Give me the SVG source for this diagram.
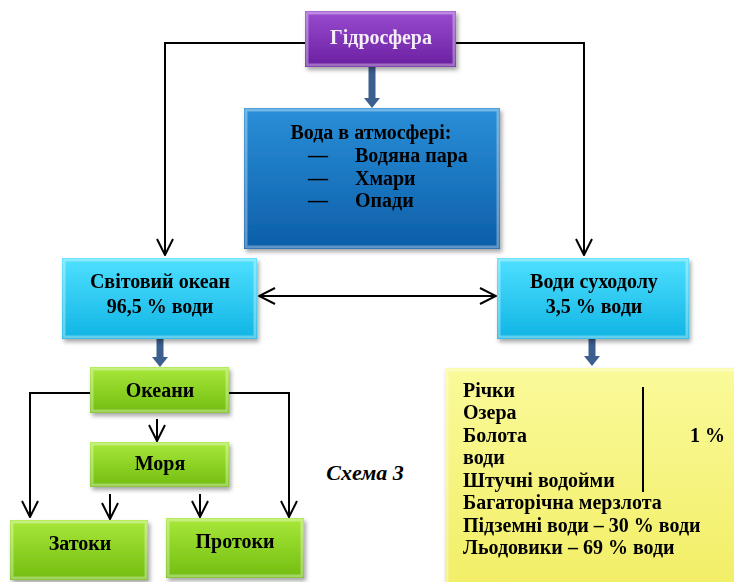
<svg xmlns="http://www.w3.org/2000/svg" width="734" height="582" viewBox="0 0 734 582">
<style>
text{font-family:"Liberation Serif","Times New Roman",serif;font-weight:bold;font-size:20px;fill:#000}
.c{text-anchor:middle}
.w{fill:#f4eef8}
.ln{fill:none;stroke:#000;stroke-width:2}
.thick{fill:none;stroke:#3b5f8e;stroke-width:7}
.bev{fill:none;stroke:#fff;stroke-opacity:0.35;stroke-width:3}
</style>
<defs>
<linearGradient id="gP" x1="0" y1="0" x2="0" y2="1"><stop offset="0" stop-color="#9a4cd0"/><stop offset="1" stop-color="#6a1fa0"/></linearGradient>
<linearGradient id="gB" x1="0" y1="0" x2="0" y2="1"><stop offset="0" stop-color="#2a8fd8"/><stop offset="1" stop-color="#0c5ea8"/></linearGradient>
<linearGradient id="gC" x1="0" y1="0" x2="0" y2="1"><stop offset="0" stop-color="#4fe0ff"/><stop offset="1" stop-color="#10b4e4"/></linearGradient>
<linearGradient id="gG" x1="0" y1="0" x2="0" y2="1"><stop offset="0" stop-color="#a8e83a"/><stop offset="1" stop-color="#72bd10"/></linearGradient>
<linearGradient id="gY" x1="0" y1="0" x2="0" y2="1"><stop offset="0" stop-color="#fafa9a"/><stop offset="1" stop-color="#f2ee66"/></linearGradient>
<filter id="sh" x="-10%" y="-10%" width="125%" height="130%"><feDropShadow dx="2" dy="3" stdDeviation="2" flood-color="#000" flood-opacity="0.35"/></filter>
<marker id="ah" viewBox="0 0 18 18" refX="17" refY="9" markerWidth="18" markerHeight="18" markerUnits="userSpaceOnUse" orient="auto-start-reverse"><path d="M1,1 L17,9 L1,17" fill="none" stroke="#000" stroke-width="2"/></marker>
</defs>

<g id="connectors">
<polyline class="ln" points="305,43 165,43 165,255" marker-end="url(#ah)"/>
<polyline class="ln" points="456,43 584,43 584,255" marker-end="url(#ah)"/>
<line class="ln" x1="259" y1="296" x2="496" y2="296" marker-start="url(#ah)" marker-end="url(#ah)"/>
<polyline class="ln" points="90,393 30,393 30,517" marker-end="url(#ah)"/>
<polyline class="ln" points="229,393 289,393 289,517" marker-end="url(#ah)"/>
<line class="ln" x1="157" y1="419" x2="157" y2="441" marker-end="url(#ah)"/>
<line class="ln" x1="110" y1="494" x2="110" y2="519" marker-end="url(#ah)"/>
<line class="ln" x1="200" y1="494" x2="200" y2="517" marker-end="url(#ah)"/>
<line class="thick" x1="372" y1="67" x2="372" y2="100"/>
<path d="M364,98 L380,98 L372,108 Z" fill="#3b5f8e"/>
<line class="thick" x1="160" y1="339" x2="160" y2="359"/>
<path d="M152,357 L168,357 L160,367 Z" fill="#3b5f8e"/>
<line class="thick" x1="592" y1="339" x2="592" y2="358"/>
<path d="M584,356 L600,356 L592,366 Z" fill="#3b5f8e"/>
</g>

<g id="hydrosphere" filter="url(#sh)">
<rect x="305" y="11" width="151" height="56" fill="url(#gP)"/>
<rect x="307" y="13" width="147" height="52" class="bev"/>
<text x="381" y="44" class="c w">Гідросфера</text>
</g>

<g id="atmosphere" filter="url(#sh)">
<rect x="244" y="108" width="256" height="141" fill="url(#gB)"/>
<rect x="246" y="110" width="252" height="137" class="bev"/>
<text x="371" y="139" class="c">Вода в атмосфері:</text>
<text x="308" y="162">—</text><text x="355" y="162">Водяна пара</text>
<text x="308" y="185">—</text><text x="355" y="185">Хмари</text>
<text x="308" y="207">—</text><text x="355" y="207">Опади</text>
</g>

<g id="ocean" filter="url(#sh)">
<rect x="62" y="258" width="195" height="81" fill="url(#gC)"/>
<rect x="64" y="260" width="191" height="77" class="bev"/>
<text x="160" y="288" class="c">Світовий океан</text>
<text x="160" y="313" class="c">96,5 % води</text>
</g>

<g id="land" filter="url(#sh)">
<rect x="497" y="258" width="192" height="81" fill="url(#gC)"/>
<rect x="499" y="260" width="188" height="77" class="bev"/>
<text x="594" y="288" class="c">Води суходолу</text>
<text x="594" y="313" class="c">3,5 % води</text>
</g>

<g id="oceans" filter="url(#sh)">
<rect x="90" y="367" width="139" height="46" fill="url(#gG)"/>
<rect x="92" y="369" width="135" height="42" class="bev"/>
<text x="160" y="397" class="c">Океани</text>
</g>

<g id="seas" filter="url(#sh)">
<rect x="90" y="442" width="139" height="45" fill="url(#gG)"/>
<rect x="92" y="444" width="135" height="41" class="bev"/>
<text x="160" y="470" class="c">Моря</text>
</g>

<g id="bays" filter="url(#sh)">
<rect x="10" y="520" width="138" height="60" fill="url(#gG)"/>
<rect x="12" y="522" width="134" height="56" class="bev"/>
<text x="80" y="550" class="c">Затоки</text>
</g>

<g id="straits" filter="url(#sh)">
<rect x="166" y="518" width="138" height="60" fill="url(#gG)"/>
<rect x="168" y="520" width="134" height="56" class="bev"/>
<text x="235" y="548" class="c">Протоки</text>
</g>

<g id="landwaters" filter="url(#sh)">
<rect x="445" y="368" width="300" height="220" fill="url(#gY)"/>
<rect x="447" y="370" width="296" height="216" class="bev"/>
<text x="463" y="397">Річки</text>
<text x="463" y="419">Озера</text>
<text x="463" y="442">Болота</text>
<text x="690" y="442">1 %</text>
<text x="463" y="464">води</text>
<text x="463" y="487">Штучні водойми</text>
<text x="463" y="509">Багаторічна мерзлота</text>
<text x="463" y="532">Підземні води – 30 % води</text>
<text x="463" y="554">Льодовики – 69 % води</text>
</g>
<line class="ln" x1="643" y1="387" x2="643" y2="492"/>

<text x="365" y="480" class="c" style="font-style:italic;font-size:22px">Схема 3</text>
</svg>
